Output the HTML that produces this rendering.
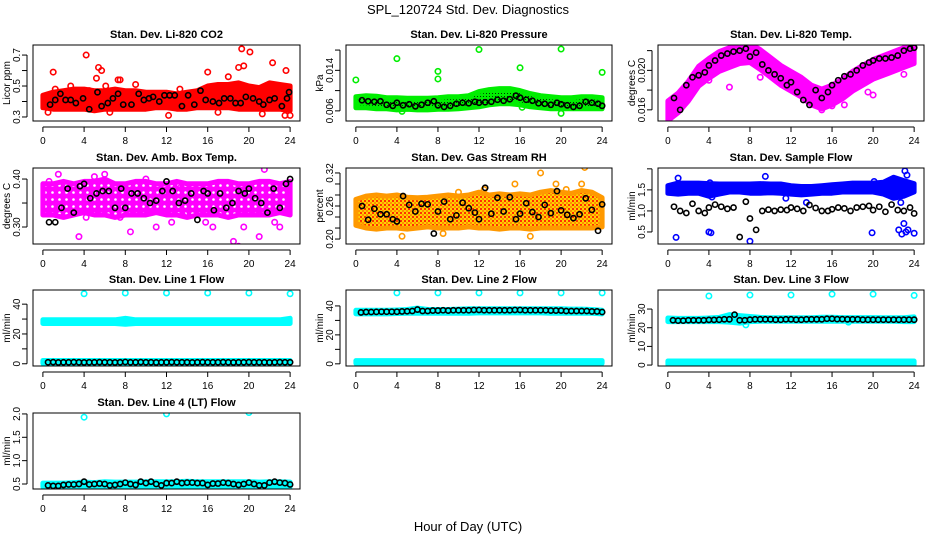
<!DOCTYPE html>
<html><head><meta charset="utf-8"><style>
html,body{margin:0;padding:0;background:#fff;}
svg{display:block;font-family:"Liberation Sans",Arial,sans-serif;}
</style></head><body>
<svg id="chart" width="936" height="540" viewBox="0 0 936 540" xmlns="http://www.w3.org/2000/svg">
<defs>
<pattern id="rhpat" width="4" height="4" patternUnits="userSpaceOnUse"><rect width="4" height="4" fill="#ffd000"/><rect width="2" height="2" fill="#ff3000"/><rect x="2" y="2" width="2" height="2" fill="#ff9000"/></pattern>
<pattern id="grpat" width="3" height="3" patternUnits="userSpaceOnUse"><rect width="3" height="3" fill="#00ee00"/><rect width="1" height="1" fill="#003300"/></pattern>
<pattern id="mgpat" width="7" height="7" patternUnits="userSpaceOnUse"><rect width="7" height="7" fill="#ff00ff"/><circle cx="3.5" cy="3.5" r="1.3" fill="#fff"/></pattern>
</defs>
<text x="468" y="14" text-anchor="middle" font-size="13">SPL_120724  Std. Dev. Diagnostics</text>
<text x="468" y="531" text-anchor="middle" font-size="13">Hour of Day (UTC)</text>
</svg>
<script>
// shared x data
const bandHours=[0,1,2,3,4,5,6,7,8,9,10,11,12,13,14,15,16,17,18,19,20,21,22,23,24];
const blkT=[0.6,1.2,1.8,2.4,3.0,3.6,4.0,4.6,5.2,5.8,6.4,7.0,7.6,8.0,8.6,9.2,9.8,10.4,11.0,11.6,12.0,12.6,13.2,13.8,14.4,15.0,15.6,16.0,16.6,17.2,17.8,18.4,19.0,19.6,20.0,20.6,21.2,21.8,22.4,23.0,23.6,24.0];
const halfHours=[0.5,1,1.5,2,2.5,3,3.5,4,4.5,5,5.5,6,6.5,7,7.5,8,8.5,9,9.5,10,10.5,11,11.5,12,12.5,13,13.5,14,14.5,15,15.5,16,16.5,17,17.5,18,18.5,19,19.5,20,20.5,21,21.5,22,22.5,23,23.5,24];
const xTicks=[0,4,8,12,16,20,24];

// CO2
const co2Lo=[0.36,0.35,0.35,0.35,0.35,0.34,0.35,0.35,0.35,0.35,0.35,0.36,0.36,0.35,0.35,0.36,0.36,0.36,0.36,0.35,0.35,0.35,0.35,0.35,0.34];
const co2Hi=[0.44,0.46,0.47,0.48,0.48,0.47,0.47,0.48,0.47,0.47,0.46,0.46,0.46,0.45,0.46,0.47,0.50,0.51,0.51,0.52,0.50,0.49,0.52,0.51,0.50];
const co2OutX=[0.5,1,1.2,2.7,4.2,4.5,5.2,5.4,5.7,6.1,6.5,7.3,7.5,9,12.2,13.3,16,17,18,19,19.3,19.5,20.1,21.3,21.7,22.3,23.5,23.6,24];
const co2OutY=[0.33,0.59,0.48,0.50,0.70,0.47,0.55,0.62,0.60,0.50,0.33,0.54,0.54,0.51,0.31,0.48,0.59,0.33,0.56,0.62,0.74,0.63,0.72,0.32,0.49,0.65,0.31,0.60,0.31];
const co2BlkX=[0.7,1.2,1.7,2.2,2.7,3.2,3.9,4.5,5.3,5.7,6.3,6.8,7.3,7.8,8.6,9.3,9.8,10.3,10.7,11.3,11.8,12.3,12.8,13.5,14.1,14.7,15.3,15.8,16.5,17.1,17.6,18.2,18.7,19.2,19.7,20.4,21,21.4,22,22.5,23.2,23.7,23.9];
const co2BlkY=[0.38,0.41,0.45,0.41,0.41,0.39,0.42,0.35,0.46,0.37,0.39,0.42,0.45,0.38,0.38,0.45,0.41,0.42,0.43,0.4,0.44,0.44,0.44,0.37,0.44,0.38,0.47,0.41,0.40,0.39,0.42,0.42,0.39,0.39,0.43,0.42,0.40,0.38,0.41,0.42,0.37,0.42,0.46];
const co2Ticks=[0.3,0.4,0.5,0.6,0.7];
const co2Labels=["0.3","","0.5","","0.7"];

// Pressure
const prLo=[0.0066,0.0066,0.0064,0.0064,0.0062,0.0063,0.0062,0.0062,0.0063,0.0063,0.0064,0.0066,0.0068,0.0072,0.0074,0.0074,0.0072,0.0068,0.0066,0.0064,0.0064,0.0064,0.0064,0.0064,0.0064];
const prHi=[0.0088,0.0090,0.0089,0.0086,0.0086,0.0085,0.0085,0.0085,0.0086,0.0088,0.0088,0.0090,0.0098,0.0102,0.0104,0.0104,0.0100,0.0094,0.0090,0.0088,0.0086,0.0086,0.0088,0.0088,0.0086];
const prOutX=[0,4,8,8,12,16,20,24,20,4.5,16.2];
const prOutY=[0.0121,0.0163,0.0138,0.0123,0.0181,0.0145,0.0182,0.0136,0.0055,0.0059,0.0067];
const prBlkY=[0.0081,0.0079,0.0078,0.0079,0.0072,0.0070,0.0076,0.0071,0.0073,0.0069,0.0072,0.0076,0.0079,0.0071,0.0068,0.0070,0.0074,0.0076,0.0075,0.0078,0.0076,0.0077,0.0078,0.0082,0.0080,0.0083,0.0090,0.0086,0.0082,0.0080,0.0075,0.0074,0.0072,0.0076,0.0073,0.0071,0.0068,0.0070,0.0078,0.0076,0.0074,0.0070];
const prTicks=[0.006,0.010,0.014,0.018];
const prLabels=["0.006","","0.014",""];

// Li-820 Temp
const tLo=[0.0149,0.0157,0.0169,0.0184,0.0192,0.0199,0.0203,0.0207,0.0208,0.0201,0.0193,0.0185,0.0179,0.0173,0.0165,0.0161,0.0165,0.0171,0.0179,0.0185,0.0191,0.0195,0.0199,0.0203,0.0207];
const tHi=[0.0169,0.0177,0.0189,0.0204,0.0212,0.0219,0.0223,0.0226,0.0227,0.0221,0.0213,0.0205,0.0199,0.0193,0.0185,0.0181,0.0185,0.0191,0.0199,0.0205,0.0211,0.0215,0.0219,0.0223,0.0226];
const tOutX=[1.5,3,4,6,9,11.8,13.5,15,16,17.2,19.5,20,23];
const tOutY=[0.0166,0.0186,0.0190,0.0183,0.0193,0.0186,0.0175,0.0160,0.0164,0.0165,0.0178,0.0175,0.0196];
const tBlkY=[0.0172,0.0160,0.0185,0.0193,0.0195,0.0198,0.0205,0.0210,0.0215,0.0217,0.0219,0.0220,0.0222,0.0214,0.0218,0.0206,0.0200,0.0196,0.0192,0.0185,0.0188,0.0178,0.0170,0.0165,0.0180,0.0172,0.0178,0.0185,0.0190,0.0194,0.0196,0.0200,0.0205,0.0208,0.0210,0.0212,0.0212,0.0213,0.0215,0.0220,0.0222,0.0223];
const tTicks=[0.016,0.018,0.020,0.022];
const tLabels=["0.016","","0.020",""];

// Amb box temp
const bxLo=[0.325,0.325,0.32,0.325,0.33,0.325,0.325,0.32,0.325,0.325,0.325,0.33,0.325,0.325,0.32,0.325,0.325,0.325,0.32,0.325,0.325,0.325,0.325,0.33,0.325];
const bxHi=[0.39,0.39,0.395,0.39,0.395,0.395,0.40,0.39,0.39,0.395,0.395,0.39,0.39,0.395,0.39,0.39,0.39,0.395,0.395,0.39,0.39,0.395,0.395,0.39,0.395];
const bxOutX=[0.6,1.5,3.5,4.2,6,7.5,8.5,11,13,15.8,18.5,19,19.5,21,21.5,22.5,23,5,10,14,16.5,12.5];
const bxOutY=[0.395,0.41,0.28,0.32,0.41,0.32,0.29,0.3,0.39,0.31,0.27,0.26,0.3,0.28,0.42,0.31,0.3,0.405,0.4,0.33,0.3,0.31];
const bxBlkY=[0.31,0.31,0.34,0.38,0.33,0.385,0.39,0.36,0.37,0.375,0.375,0.34,0.38,0.34,0.37,0.37,0.36,0.35,0.355,0.375,0.395,0.375,0.35,0.355,0.37,0.315,0.375,0.37,0.335,0.37,0.34,0.35,0.375,0.37,0.38,0.36,0.35,0.33,0.38,0.34,0.39,0.40];
const bxTicks=[0.30,0.35,0.40];
const bxLabels=["0.30","","0.40"];

// Gas stream RH
const rhLo=[0.225,0.22,0.218,0.22,0.22,0.218,0.22,0.222,0.22,0.22,0.22,0.222,0.22,0.22,0.218,0.22,0.22,0.218,0.22,0.22,0.22,0.22,0.22,0.22,0.222];
const rhHi=[0.272,0.278,0.28,0.278,0.28,0.276,0.275,0.276,0.278,0.28,0.278,0.28,0.285,0.28,0.282,0.28,0.282,0.28,0.285,0.288,0.285,0.283,0.288,0.285,0.275];
const rhOutX=[4.5,8.5,14,18,19.5,22.3,22,20.5,17,0.5,10,12.5,15.5];
const rhOutY=[0.205,0.21,0.28,0.32,0.3,0.33,0.3,0.29,0.205,0.225,0.285,0.29,0.3];
const rhBlkY=[0.26,0.235,0.255,0.245,0.245,0.236,0.232,0.278,0.262,0.25,0.264,0.263,0.21,0.25,0.268,0.236,0.243,0.266,0.256,0.248,0.236,0.293,0.246,0.275,0.25,0.276,0.236,0.246,0.265,0.249,0.24,0.262,0.247,0.287,0.252,0.244,0.238,0.245,0.274,0.253,0.215,0.263];
const rhTicks=[0.20,0.22,0.24,0.26,0.28,0.30,0.32];
const rhLabels=["0.20","","","0.26","","","0.32"];

// Sample flow
const sfLo=[1.42,1.4,1.42,1.42,1.35,1.4,1.45,1.45,1.42,1.42,1.43,1.42,1.4,1.38,1.4,1.42,1.42,1.45,1.45,1.45,1.45,1.4,1.3,1.35,1.45];
const sfHi=[1.6,1.66,1.66,1.66,1.65,1.64,1.64,1.64,1.64,1.65,1.64,1.64,1.6,1.58,1.58,1.6,1.62,1.64,1.66,1.66,1.66,1.68,1.8,1.72,1.65];
const sfOutX=[0.8,1,4,4.2,4.1,4.3,8,9.5,13.5,19.9,20.1,22.5,22.8,23,23.2,23.4,23.1,23.3,22.7,24,11.5];
const sfOutY=[0.37,1.78,0.5,0.48,1.67,1.33,0.28,1.82,1.2,0.48,1.7,0.55,0.45,0.7,0.5,0.55,1.95,1.85,1.2,0.47,1.3];
const sfBlkY=[1.1,1.0,0.95,1.17,1.0,0.95,1.08,1.15,1.1,1.05,1.08,0.38,1.22,0.82,0.55,1.0,1.03,1.0,1.03,1.02,1.08,1.05,1.0,1.14,1.07,1.0,1.0,1.04,1.08,1.06,1.0,1.08,1.1,1.12,1.02,1.1,0.98,1.15,1.02,1.0,1.08,0.94];
const sfTicks=[0.5,1.0,1.5,2.0];
const sfLabels=["0.5","1.0","1.5",""];

// Line flows
const l1TopLo=[27,27,27,27,27,27,27,27,26.5,27,27,27,27,27,27,27,27,27,27,27,27,27,27,27,27];
const l1TopHi=[29.5,29.5,29.5,29.5,29.5,29.5,29.5,29.5,30.5,29.5,29.5,29.5,29.5,29.5,29.5,29.5,29.5,29.5,29.5,29.5,29.5,29.5,29.5,29.5,30.5];
const botLo=[0.3,0.3,0.3,0.3,0.3,0.3,0.3,0.3,0.3,0.3,0.3,0.3,0.3,0.3,0.3,0.3,0.3,0.3,0.3,0.3,0.3,0.3,0.3,0.3,0.3];
const botHi=[2.2,2.2,2.2,2.2,2.2,2.2,2.2,2.2,2.2,2.2,2.2,2.2,2.2,2.2,2.2,2.2,2.2,2.2,2.2,2.2,2.2,2.2,2.2,2.2,2.2];
const l1OutX=[4,8,12,16,20,24];
const l1OutY=[47,47.5,47.5,47.5,47.5,47];
const l1BlkY=[1.0,1.1,0.9,1.0,1.0,1.1,1.0,0.9,1.0,1.0,1.1,1.0,1.0,0.9,1.0,1.2,1.0,1.0,1.1,1.0,1.0,0.9,1.0,1.0,1.1,1.0,1.0,1.0,0.9,1.0,1.1,1.0,1.0,1.0,1.1,1.0,0.9,1.0,1.0,1.1,1.0,1.0,1.0,0.9,1.0,1.1,1.0,1.0];
const l1Ticks=[0,10,20,30,40];
const l1Labels=["0","","20","","40"];

const l2TopLo=[34.5,34.5,34.5,34.5,34.8,35,35,35,35,35,35,35,35.2,35.2,35.2,35.2,35.2,35.2,35.2,35,35,35,35,35,34.5];
const l2TopHi=[37,37,37,37,37.2,37.5,38.5,37.5,37.5,37.5,37.8,38,38,38,38,38,38,38,38,38,38,37.8,37.8,37.5,37];
const l2OutX=[4,8,12,16,20,24];
const l2OutY=[49,49,49,49,49,49];
const l2BlkY=[35.5,35.8,35.8,35.9,36,36,36,36,36.2,36.3,36.5,37.5,36.5,36.5,36.8,36.8,37,36.8,37,37,37,37,37.2,37.2,37,37,37,37,37,37,37.2,37.2,37,37,37,37,37,36.8,36.8,36.8,36.5,36.5,36.5,36.5,36.5,36.2,36.2,35.8];
const l2Ticks=[0,10,20,30,40];
const l2Labels=["0","","20","","40"];

const l3TopLo=[23.3,23.3,23.3,23.3,23.3,23.3,23,22.5,23.3,23.5,23.5,23.5,23.5,23.5,23.5,23.5,23.5,23.5,23.5,23.5,23.5,23.5,23.5,23.3,23.3];
const l3TopHi=[25.2,25,25,25,25.2,25.5,27,26.5,26,25.5,25.3,25.3,25.3,25.3,25.3,25.6,25.6,25.4,25.4,25.4,25.4,25.3,25.3,25.3,25.8];
const l3OutX=[4,8,12,16,20,24,7.6,17.6];
const l3OutY=[37,37.5,37.5,38,38,37.3,21.5,23];
const l3BlkY=[24,23.8,23.8,24,24,24,24,24.2,24.2,24.3,24.5,24.5,27,24,24,24.3,24.5,24.5,24.5,24.5,24.3,24.3,24.5,24.5,24.3,24.3,24.5,24.5,24.5,24.5,24.8,24.8,24.6,24.6,24.5,24.5,24.5,24.3,24.3,24.3,24.3,24.3,24.3,24.3,24.3,24.3,24.3,24.3];
const l3Ticks=[0,10,20,30];
const l3Labels=["0","10","20","30"];

const l4Lo=[0.44,0.44,0.44,0.44,0.44,0.44,0.44,0.44,0.44,0.44,0.44,0.44,0.44,0.44,0.44,0.44,0.44,0.44,0.44,0.44,0.44,0.44,0.44,0.44,0.44];
const l4Hi=[0.52,0.52,0.52,0.53,0.54,0.53,0.55,0.54,0.54,0.54,0.55,0.55,0.55,0.55,0.56,0.55,0.55,0.55,0.55,0.55,0.55,0.54,0.55,0.55,0.54];
const l4OutX=[4,12,20];
const l4OutY=[1.93,2.0,2.03];
const l4BlkY=[0.47,0.46,0.46,0.48,0.49,0.49,0.5,0.55,0.49,0.5,0.51,0.5,0.47,0.48,0.5,0.53,0.5,0.48,0.55,0.52,0.55,0.5,0.47,0.52,0.52,0.55,0.52,0.53,0.53,0.52,0.52,0.48,0.51,0.51,0.53,0.52,0.5,0.48,0.5,0.53,0.5,0.47,0.47,0.53,0.55,0.53,0.52,0.49];
const l4Ticks=[0.5,1.0,1.5,2.0];
const l4Labels=["0.5","1.0","1.5","2.0"];

const NS="http://www.w3.org/2000/svg";
const svg=document.getElementById('chart');
const colX=[33,346,658], colW=[267,266,266], rowY=[45,168,290,413], boxH=76;
function mk(tag,attrs,parent){const e=document.createElementNS(NS,tag);for(const k in attrs)e.setAttribute(k,attrs[k]);(parent||svg).appendChild(e);return e;}

const panels=[
 {slug:'co2',title:'Stan. Dev. Li-820 CO2',ytitle:'Licor ppm',c:0,r:0,y0:0.274,y1:0.765,col:'#ff0000',fill:'#ff0000',bands:[[co2Lo,co2Hi]],ox:co2OutX,oy:co2OutY,bx:co2BlkX,by:co2BlkY,ticks:co2Ticks,labels:co2Labels},
 {slug:'pressure',title:'Stan. Dev. Li-820 Pressure',ytitle:'kPa',c:1,r:0,y0:0.004,y1:0.019,col:'#00ee00',fill:'url(#grpat)',bands:[[prLo,prHi]],ox:prOutX,oy:prOutY,bx:blkT,by:prBlkY,ticks:prTicks,labels:prLabels},
 {slug:'temp',title:'Stan. Dev. Li-820 Temp.',ytitle:'degrees C',c:2,r:0,y0:0.01487,y1:0.02257,col:'#ff00ff',fill:'#ff00ff',bands:[[tLo,tHi]],ox:tOutX,oy:tOutY,bx:blkT,by:tBlkY,ticks:tTicks,labels:tLabels},
 {slug:'box-temp',title:'Stan. Dev. Amb. Box Temp.',ytitle:'degrees C',c:0,r:1,y0:0.2646,y1:0.423,col:'#ff00ff',fill:'url(#mgpat)',bands:[[bxLo,bxHi]],ox:bxOutX,oy:bxOutY,bx:blkT,by:bxBlkY,ticks:bxTicks,labels:bxLabels},
 {slug:'rh',title:'Stan. Dev. Gas Stream RH',ytitle:'percent',c:1,r:1,y0:0.191,y1:0.329,col:'#ff9900',fill:'url(#rhpat)',bands:[[rhLo,rhHi]],ox:rhOutX,oy:rhOutY,bx:blkT,by:rhBlkY,ticks:rhTicks,labels:rhLabels},
 {slug:'sample-flow',title:'Stan. Dev. Sample Flow',ytitle:'ml/min',c:2,r:1,y0:0.214,y1:2.02,col:'#0000ff',fill:'#0000ff',bands:[[sfLo,sfHi]],ox:sfOutX,oy:sfOutY,bx:blkT,by:sfBlkY,ticks:sfTicks,labels:sfLabels},
 {slug:'line1',title:'Stan. Dev. Line 1 Flow',ytitle:'ml/min',c:0,r:2,y0:-1.5,y1:49.5,col:'#00ffff',fill:'#00ffff',bands:[[l1TopLo,l1TopHi],[botLo,botHi]],ox:l1OutX,oy:l1OutY,bx:halfHours,by:l1BlkY,ticks:l1Ticks,labels:l1Labels},
 {slug:'line2',title:'Stan. Dev. Line 2 Flow',ytitle:'ml/min',c:1,r:2,y0:-1.5,y1:51,col:'#00ffff',fill:'#00ffff',bands:[[l2TopLo,l2TopHi],[botLo,botHi]],ox:l2OutX,oy:l2OutY,bx:halfHours,by:l2BlkY,ticks:l2Ticks,labels:l2Labels},
 {slug:'line3',title:'Stan. Dev. Line 3 Flow',ytitle:'ml/min',c:2,r:2,y0:-0.5,y1:40.2,col:'#00ffff',fill:'#00ffff',bands:[[l3TopLo,l3TopHi],[botLo,botHi]],ox:l3OutX,oy:l3OutY,bx:halfHours,by:l3BlkY,ticks:l3Ticks,labels:l3Labels},
 {slug:'line4',title:'Stan. Dev. Line 4 (LT) Flow',ytitle:'ml/min',c:0,r:3,y0:0.393,y1:2.02,col:'#00ffff',fill:'#00ffff',bands:[[l4Lo,l4Hi]],ox:l4OutX,oy:l4OutY,bx:halfHours,by:l4BlkY,ticks:l4Ticks,labels:l4Labels}
];

panels.forEach(p=>{
  const L=colX[p.c], W=colW[p.c], T=rowY[p.r], B=T+boxH;
  const xs=v=>L+(v+0.96)/25.92*W;
  const ys=v=>B-(v-p.y0)/(p.y1-p.y0)*boxH;
  const g=mk('g',{});
  
  
  const clipId='clip-'+p.slug;
  const cp=mk('clipPath',{id:clipId},g); mk('rect',{x:L,y:T,width:W,height:boxH},cp);
  const plot=mk('g',{'clip-path':'url(#'+clipId+')'},g);
  
  
  p.bands.forEach((b,bi)=>{
    const pts=[];
    bandHours.forEach((h,i)=>pts.push(xs(h).toFixed(1)+','+ys(b[0][i]).toFixed(1)));
    for(let i=bandHours.length-1;i>=0;i--)pts.push(xs(bandHours[i]).toFixed(1)+','+ys(b[1][i]).toFixed(1));
    const poly=mk('polygon',{points:pts.join(' '),fill:p.fill,stroke:p.col,'stroke-width':5,'stroke-linejoin':'round'},plot);
    
    
  });
  p.ox.forEach((x,i)=>{
    const c=mk('circle',{cx:xs(x),cy:ys(p.oy[i]),r:2.7,fill:'none',stroke:p.col,'stroke-width':1.6},plot);
    
    
  });
  p.by.forEach((y,i)=>{
    const c=mk('circle',{cx:xs(p.bx[i]),cy:ys(y),r:2.6,fill:'none',stroke:'#000','stroke-width':1.6},plot);
    
    
  });
  const box=mk('rect',{x:L,y:T,width:W,height:boxH,fill:'none',stroke:'#000','stroke-width':1},g);
  
  
  const tt=mk('text',{x:L+W/2,y:T-7,'text-anchor':'middle','font-size':11,'font-weight':'bold'},g);
  tt.textContent=p.title;
  
  
  const yt=mk('text',{x:0,y:0,'text-anchor':'middle','font-size':10,transform:'translate('+(L-23)+','+(T+boxH/2)+') rotate(-90)'},g);
  yt.textContent=p.ytitle;
  
  
  mk('line',{x1:xs(0),x2:xs(24),y1:B+6,y2:B+6,stroke:'#000'},g);
  xTicks.forEach(t=>{
    mk('line',{x1:xs(t),x2:xs(t),y1:B+6,y2:B+11,stroke:'#000'},g);
    const tx=mk('text',{x:xs(t),y:B+23,'text-anchor':'middle','font-size':10},g);
    tx.textContent=String(t);
    
    
  });
  mk('line',{x1:L-6,x2:L-6,y1:ys(p.ticks[0]),y2:ys(p.ticks[p.ticks.length-1]),stroke:'#000'},g);
  p.ticks.forEach((t,i)=>{
    mk('line',{x1:L-11,x2:L-6,y1:ys(t),y2:ys(t),stroke:'#000'},g);
    if(p.labels[i]){
      const ty=mk('text',{x:0,y:0,'text-anchor':'middle','font-size':10,transform:'translate('+(L-13)+','+ys(t)+') rotate(-90)'},g);
      ty.textContent=p.labels[i];
      
      
    }
  });
});
</script>
</body></html>
